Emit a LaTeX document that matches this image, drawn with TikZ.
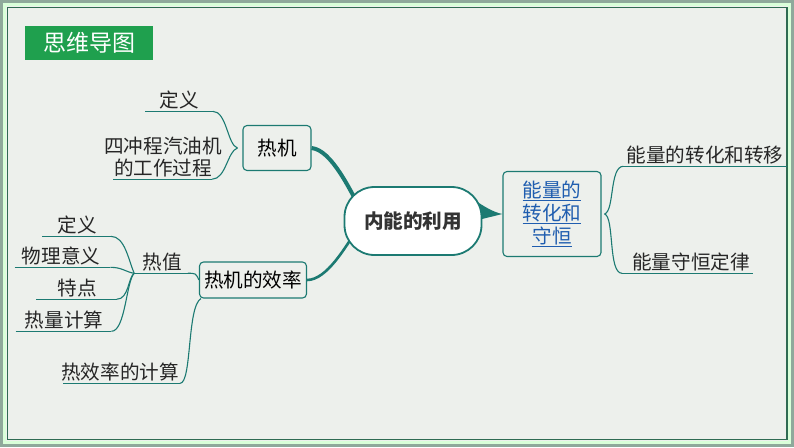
\documentclass[tikz,border=0pt]{standalone}
\usepackage{fontspec}
\setmainfont{Noto Sans CJK SC}
\usetikzlibrary{positioning,backgrounds}
\definecolor{bgc}{HTML}{EDF0EC}
\definecolor{rimc}{HTML}{8FA99B}
\definecolor{framec}{HTML}{2F6B52}
\definecolor{titlec}{HTML}{1FA04E}
\definecolor{tealc}{HTML}{1C7A72}
\definecolor{linkc}{HTML}{1F5DAF}

\begin{document}
\begin{tikzpicture}[x=1pt,y=-1pt,
    font=\fontsize{19.6}{22}\selectfont,
    box/.style={draw=tealc, line width=1.1pt, rounded corners=4pt, fill=bgc, inner sep=0pt},
    leaf/.style={inner xsep=0pt, inner ysep=2pt, text=black!85},
    twig/.style={draw=tealc, line width=1.1pt},
    limb/.style={draw=tealc, line width=2.6pt},
    ul/.style 2 args={append after command={([xshift=-#1]\tikzlastnode.south west) edge[twig] ([xshift=#2]\tikzlastnode.south east)}}]
  \useasboundingbox (0,0) rectangle (794,447);
  \begin{pgfonlayer}{background}
    \fill[rimc] (0,0) rectangle (794,447);
    \fill[white!85!green] (3,3) rectangle (791,444);
    \fill[bgc] (6,6) rectangle (788,441);
    \draw[framec, line width=1.6pt] (7.5,7.5) rectangle (787,439.5);
  \end{pgfonlayer}

  \node[fill=titlec, minimum width=128, minimum height=34, text=white, font=\fontsize{23}{26}\selectfont] (title) at (89,43) {思维导图};

  % centre and main topics
  \node[draw=tealc, line width=1.8pt, fill=white, rounded corners=30pt, minimum width=137, minimum height=68, font=\fontsize{19.6}{22}\selectfont\bfseries, text=black!80] (root) at (413,221) {内能的利用};
  \node[box, minimum width=68, minimum height=45] (rj) at (277,148) {热机};
  \node[box, minimum width=107, minimum height=36] (xl) at (253,280) {热机的效率};
  \node[box, minimum width=98, minimum height=85, align=center, text=linkc, font=\fontsize{19.6}{23}\selectfont] (nl) at (552,214) {\underline{能量的}\\\underline{转化和}\\\underline{守恒}};

  % leaves
  \node[leaf, ul={14}{14}] (dy1) at (179,100) {定义};
  \node[leaf, align=center, ul={-9}{-10}] (sc) at (163,157) {四冲程汽油机\\的工作过程};
  \node[leaf, ul={3}{3}] (zh) at (705,155) {能量的转化和转移};
  \node[leaf, ul={10}{3}] (sh) at (691,262) {能量守恒定律};
  \node[leaf, ul={8}{6}] (rz) at (162,262) {热值};
  \node[leaf, ul={15}{14}] (dy2) at (77,225) {定义};
  \node[leaf, ul={7}{10}] (wl) at (61,256) {物理意义};
  \node[leaf, ul={21}{20}] (td) at (77,288) {特点};
  \node[leaf, ul={9}{8}] (rl) at (64,320) {热量计算};
  \node[leaf, ul={-2}{1}] (xj) at (120,372) {热效率的计算};
  \coordinate (hub) at ([xshift=-8pt]rz.south west);

  \begin{pgfonlayer}{background}
    \draw[tealc, line width=4pt] (rj.east) .. controls +(20,2) and +(-12,-22) .. (362,212);
    \draw[limb] (xl.east) .. controls +(20,0) and +(-12,18) .. (358,228);
    \fill[tealc] (468,196) .. controls (482,205) and (492,212) .. (nl.west) -- (478,220) -- cycle;
    \draw[twig] ([xshift=-5pt]rj.west) .. controls +(-10,-3) and +(14,0) .. ([xshift=14pt]dy1.south east);
    \draw[twig] ([xshift=-5pt]rj.west) .. controls +(-10,3) and +(14,0) .. ([xshift=-10pt]sc.south east);
    \draw[twig] ([xshift=3pt]nl.east) .. controls +(10,-3) and +(-14,0) .. ([xshift=-3pt]zh.south west);
    \draw[twig] ([xshift=3pt]nl.east) .. controls +(10,3) and +(-14,0) .. ([xshift=-10pt]sh.south west);
    \draw[twig] ([xshift=6pt]rz.south east) .. controls +(8,0) .. (xl.west);
    \draw[twig] ([xshift=14pt]dy2.south east) .. controls +(14,0) and +(-6,-14) .. (hub);
    \draw[twig] ([xshift=10pt]wl.south east) .. controls +(12,0) and +(-8,-1) .. (hub);
    \draw[twig] ([xshift=20pt]td.south east) .. controls +(12,0) and +(-6,4) .. (hub);
    \draw[twig] ([xshift=8pt]rl.south east) .. controls +(14,0) and +(-8,8) .. (hub);
    \draw[twig] ([xshift=2pt]xl.south west) .. controls +(-14,8) and +(12,0) .. ([xshift=1pt]xj.south east);
  \end{pgfonlayer}
\end{tikzpicture}
\end{document}
